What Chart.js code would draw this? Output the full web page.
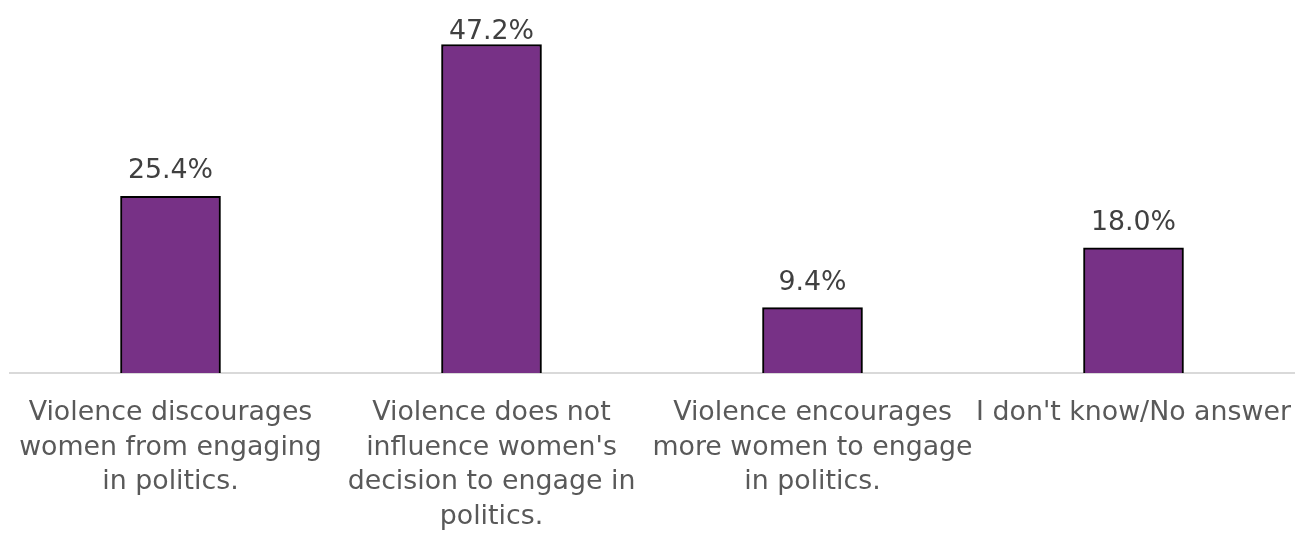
<!DOCTYPE html>
<html>
<head>
<meta charset="utf-8">
<script src="https://cdn.jsdelivr.net/npm/chart.js@4"></script>
<style>
  html, body { margin: 0; padding: 0; background: #fff; }
  #wrap { width: 1296px; height: 534px; }
</style>
</head>
<body>
<div id="wrap"><canvas id="chart" width="1296" height="534"></canvas></div>
<script>
// chart data
const categories = [
    ["Violence discourages", "women from engaging", "in politics."],
    ["Violence does not", "influence women's", "decision to engage in", "politics."],
    ["Violence encourages", "more women to engage", "in politics."],
    ["I don't know/No answer"],
];
const shares = [25.4, 47.2, 9.4, 18.0];

const FONT = "'DejaVu Sans', sans-serif";

//Draws the percentage above each bar, kept inside the top of the plot
const valueLabels = {
    id: "valueLabels",
    afterDatasetsDraw: (chart) => {
        const c = chart.ctx;
        const meta = chart.getDatasetMeta(0);
        const minBaseline = chart.chartArea.top + 14;
        c.save();
        c.font = "26.8px " + FONT;
        c.fillStyle = "#404040";
        c.textAlign = "center";
        c.textBaseline = "alphabetic";
        meta.data.forEach((bar, i) => {
            const y = Math.max(bar.y - 18, minBaseline);
            c.fillText(shares[i].toFixed(1) + "%", bar.x, y);
        });
        c.restore();
    },
};

const ctx = document.getElementById("chart");

new Chart(ctx, {
    type: "bar",
    data: {
        labels: categories,
        datasets: [
            {
                data: shares,
                backgroundColor: "#773186",
                borderColor: "#000000",
                borderWidth: { top: 2, left: 2, right: 2, bottom: 0 },
                borderSkipped: "bottom",
                barThickness: 100,
            },
        ],
    },
    options: {
        responsive: false,
        animation: false,
        layout: { padding: { left: 10, right: 2, top: 25, bottom: 0 } },
        plugins: {
            legend: { display: false },
            tooltip: { enabled: false },
        },
        scales: {
            x: {
                grid: { display: false, drawTicks: false },
                border: { display: true, color: "#d9d9d9", width: 2 },
                ticks: {
                    autoSkip: false,
                    maxRotation: 0,
                    minRotation: 0,
                    padding: 23,
                    color: "#595959",
                    font: { family: FONT, size: 26.8, lineHeight: 1.287 },
                },
                afterFit: (scale) => {
                    //fixed axis height, and no extra side room for wide labels
                    scale.height = 161;
                    scale.paddingLeft = 0;
                    scale.paddingRight = 0;
                },
            },
            y: {
                display: false,
                min: 0,
                max: 50,
            },
        },
    },
    plugins: [valueLabels],
});
</script>
</body>
</html>
